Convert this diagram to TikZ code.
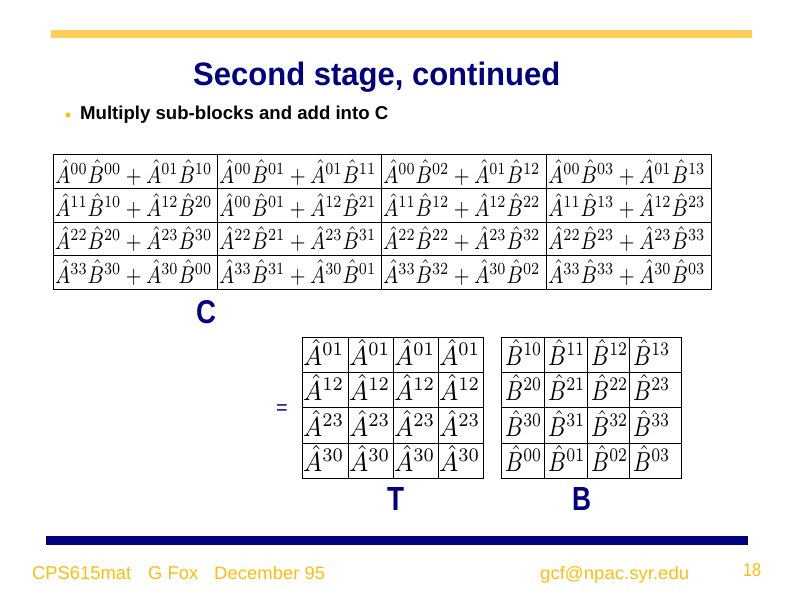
\documentclass[tikz,border=0pt]{standalone}
\usepackage[no-math]{fontspec}
\setmainfont{Liberation Sans}
\usepackage{graphicx}
\definecolor{navy}{RGB}{0,0,128}
\definecolor{barGold}{RGB}{255,206,90}
\definecolor{footGold}{RGB}{255,188,10}
\newcommand{\cterm}[4]{\resizebox{157pt}{23pt}{$\hat{A}^{#1}\hat{B}^{#2}+\hat{A}^{#3}\hat{B}^{#4}$}}
\newcommand{\tterm}[1]{\resizebox{41pt}{26pt}{$\hat{A}^{#1}$}}
\newcommand{\bterm}[1]{\resizebox{37pt}{26pt}{$\hat{B}^{#1}$}}
\begin{document}
\begin{tikzpicture}[x=1pt,y=-1pt,
  txt/.style={inner sep=0pt, anchor=base west},
  grid/.style={draw=black, line width=1pt}]
\useasboundingbox (0,0) rectangle (800,599);
% bars
\fill[barGold] (51,30) rectangle (752,38);
\fill[navy] (46,536) rectangle (748,545);
% title and bullet
\node[txt, text=navy] (title) at (193,85) {\resizebox{367pt}{23.5pt}{\bfseries Second stage, continued}};
\fill[footGold] (68,115) circle (2.5);
\node[txt] (bullet) at (80,120) {\resizebox{308pt}{13.5pt}{\bfseries Multiply sub-blocks and add into C}};
% C table
\draw[grid] (53,154) rectangle (711,289);
\draw[grid] (53,188.5) -- (711,188.5) (53,222) -- (711,222) (53,255.5) -- (711,255.5);
\draw[grid] (217,154) -- (217,289) (381,154) -- (381,289) (546,154) -- (546,289);
\node[txt] (c11) at (55,183) {\cterm{00}{00}{01}{10}};
\node[txt] (c12) at (219,183) {\cterm{00}{01}{01}{11}};
\node[txt] (c13) at (383,183) {\cterm{00}{02}{01}{12}};
\node[txt] (c14) at (548,183) {\cterm{00}{03}{01}{13}};
\node[txt] (c21) at (55,216.5) {\cterm{11}{10}{12}{20}};
\node[txt] (c22) at (219,216.5) {\cterm{00}{01}{12}{21}};
\node[txt] (c23) at (383,216.5) {\cterm{11}{12}{12}{22}};
\node[txt] (c24) at (548,216.5) {\cterm{11}{13}{12}{23}};
\node[txt] (c31) at (55,249.5) {\cterm{22}{20}{23}{30}};
\node[txt] (c32) at (219,249.5) {\cterm{22}{21}{23}{31}};
\node[txt] (c33) at (383,249.5) {\cterm{22}{22}{23}{32}};
\node[txt] (c34) at (548,249.5) {\cterm{22}{23}{23}{33}};
\node[txt] (c41) at (55,283) {\cterm{33}{30}{30}{00}};
\node[txt] (c42) at (219,283) {\cterm{33}{31}{30}{01}};
\node[txt] (c43) at (383,283) {\cterm{33}{32}{30}{02}};
\node[txt] (c44) at (548,283) {\cterm{33}{33}{30}{03}};
\node[txt, text=navy] (clab) at (196,323) {\resizebox{20pt}{23pt}{\bfseries C}};
% equals
\node[inner sep=0pt, anchor=base, text=navy, font=\fontsize{20}{20}\selectfont] (eq) at (282,414) {=};
% T matrix
\draw[grid] (302,337) rectangle (483,478);
\draw[grid] (302,372) -- (483,372) (302,407) -- (483,407) (302,443) -- (483,443);
\draw[grid] (348,337) -- (348,478) (393,337) -- (393,478) (438,337) -- (438,478);
\foreach \x/\c in {303/1,349/2,394/3,439/4}{
  \node[txt] (t1\c) at (\x,365) {\tterm{01}};
  \node[txt] (t2\c) at (\x,400.5) {\tterm{12}};
  \node[txt] (t3\c) at (\x,436) {\tterm{23}};
  \node[txt] (t4\c) at (\x,471.5) {\tterm{30}};
}
\node[txt, text=navy] (tlab) at (387,510) {\resizebox{17pt}{23pt}{\bfseries T}};
% B matrix
\draw[grid] (501,337) rectangle (681,478);
\draw[grid] (501,372) -- (681,372) (501,407) -- (681,407) (501,443) -- (681,443);
\draw[grid] (544,337) -- (544,478) (587,337) -- (587,478) (629,337) -- (629,478);
\foreach \x/\c in {505/0,548/1,591/2,633/3}{
  \node[txt] (b1\c) at (\x,365) {\bterm{1\c}};
  \node[txt] (b2\c) at (\x,400.5) {\bterm{2\c}};
  \node[txt] (b3\c) at (\x,436) {\bterm{3\c}};
  \node[txt] (b4\c) at (\x,471.5) {\bterm{0\c}};
}
\node[txt, text=navy] (blab) at (572,510) {\resizebox{19pt}{23pt}{\bfseries B}};
% footer
\node[txt, text=footGold] (f1) at (32,579) {\resizebox{99pt}{13pt}{CPS615mat}};
\node[txt, text=footGold] (f2) at (148,579) {\resizebox{50pt}{13pt}{G Fox}};
\node[txt, text=footGold] (f3) at (214,579) {\resizebox{111pt}{13pt}{December 95}};
\node[txt, text=footGold] (f4) at (540,579) {\resizebox{149pt}{13pt}{gcf@npac.syr.edu}};
\node[txt, text=footGold] (f5) at (743,576) {\resizebox{18pt}{13pt}{18}};
\end{tikzpicture}
\end{document}
